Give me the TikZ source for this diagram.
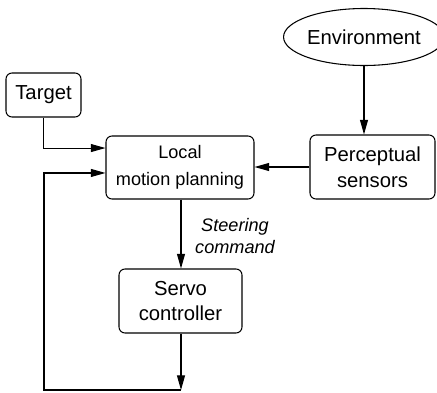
\documentclass[tikz,border=0pt]{standalone}
\usepackage{fontspec}
\setmainfont{Liberation Sans}
\usetikzlibrary{arrows.meta,shapes.geometric}
\begin{document}
\begin{tikzpicture}[x=0.75pt,y=-0.75pt,
  box/.style={draw,line width=0.8pt,rounded corners=4.5pt,align=center,inner sep=0pt},
  big/.style={font=\fontsize{15.2}{19.5}\selectfont},
  small/.style={font=\fontsize{13.6}{20.5}\selectfont},
  conn/.style={line width=0.8pt},
  arr/.style={conn,-{Triangle[length=11pt,width=6pt]}}]
\useasboundingbox (0,0) rectangle (437,393);
\node[draw,ellipse,line width=0.8pt,minimum width=109.5pt,minimum height=42.75pt,inner sep=0pt,big] (env) at (364,37) {Environment};
\node[box,big,minimum width=56.25pt,minimum height=33pt] (target) at (43.5,95) {Target};
\node[box,small,minimum width=111pt,minimum height=47.25pt] (lmp) at (180,167.5) {Local\\motion planning};
\node[box,big,minimum width=93.75pt,minimum height=48pt] (perc) at (372.5,167) {Perceptual\\sensors};
\node[box,big,minimum width=92.25pt,minimum height=48pt,font=\fontsize{15.2}{18.5}\selectfont] (servo) at (180.5,301) {Servo\\controller};
\node[align=center,inner sep=0pt,font=\fontsize{13.6}{16.5}\selectfont\itshape] (steer) at (235,236) {Steering\\command};
\coordinate (j) at (181,390);
\coordinate (fbl) at (44,390);
\draw[arr] (env.south) -- (env.south |- perc.north);
\draw[arr] (perc.west) -- (perc.west -| lmp.east);
\draw[arr] (target.south) |- ([yshift=14.6pt]lmp.west);
\draw[arr] (lmp.south -| j) -- (servo.north -| j);
\draw[arr] (servo.south -| j) -- (j);
\draw[arr] (j) -- (fbl) |- ([yshift=-4.1pt]lmp.west);
\end{tikzpicture}
\end{document}
